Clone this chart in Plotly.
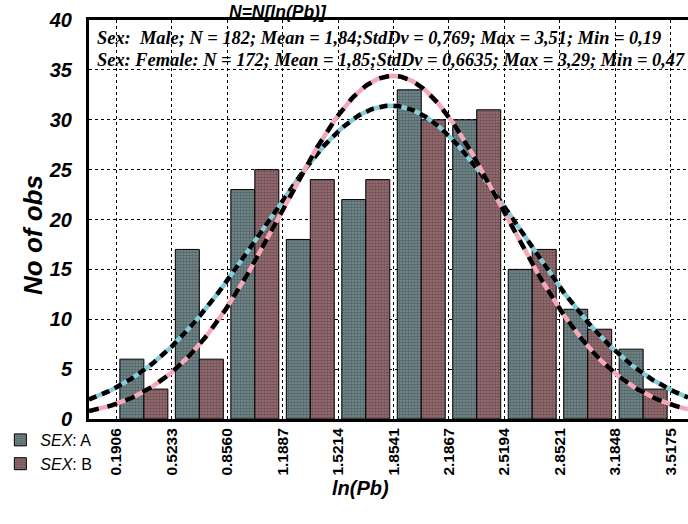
import numpy as np
import plotly.graph_objects as go

# ---- data ----
bin_edges = [0.1906, 0.5233, 0.8560, 1.1887, 1.5214, 1.8541, 2.1867, 2.5194, 2.8521, 3.1848, 3.5175]
tick_labels = ["0.1906", "0.5233", "0.8560", "1.1887", "1.5214", "1.8541", "2.1867", "2.5194", "2.8521", "3.1848", "3.5175"]
male_counts = [6, 17, 23, 18, 22, 33, 30, 15, 11, 7]
female_counts = [3, 6, 25, 24, 24, 30, 31, 17, 9, 3]

# fitted normal parameters shown on the chart
male_n, male_mean, male_sd = 182, 1.84, 0.769
female_n, female_mean, female_sd = 172, 1.85, 0.6635

line1 = "Sex:  Male; N = 182; Mean = 1,84;StdDv = 0,769; Max = 3,51; Min = 0,19"
line2 = "Sex: Female: N = 172; Mean = 1,85;StdDv = 0,6635; Max = 3,29; Min = 0,47"

centers = [(a + b) / 2 for a, b in zip(bin_edges[:-1], bin_edges[1:])]
bw = bin_edges[1] - bin_edges[0]

x_lo, x_hi = 0.028, 3.62
xs = np.linspace(x_lo, x_hi, 300)


def normal_curve(n, mu, sd):
    return n * bw / (sd * np.sqrt(2 * np.pi)) * np.exp(-0.5 * ((xs - mu) / sd) ** 2)


male_curve = normal_curve(male_n, male_mean, male_sd)
female_curve = normal_curve(female_n, female_mean, female_sd)

SANS = "Liberation Sans"
SERIF = "Liberation Serif"

fig = go.Figure()
fig.add_trace(go.Bar(
    x=centers, y=male_counts, name="<i>SEX</i>: A",
    marker=dict(color="#7a8f93", line=dict(color="black", width=1),
                pattern=dict(shape=".", size=3, solidity=0.6, fgcolor="#2c3a3d")),
))
fig.add_trace(go.Bar(
    x=centers, y=female_counts, name="<i>SEX</i>: B",
    marker=dict(color="#9b7478", line=dict(color="black", width=1),
                pattern=dict(shape=".", size=3, solidity=0.6, fgcolor="#482c2f")),
))

fig.add_trace(go.Scatter(x=xs, y=male_curve, mode="lines", showlegend=False, hoverinfo="skip",
                         line=dict(color="#86cbd8", width=4.5)))
fig.add_trace(go.Scatter(x=xs, y=male_curve, mode="lines", showlegend=False, hoverinfo="skip",
                         line=dict(color="black", width=4.5, dash="8px,6px")))
fig.add_trace(go.Scatter(x=xs, y=female_curve, mode="lines", showlegend=False, hoverinfo="skip",
                         line=dict(color="#f5a9b8", width=4.5)))
fig.add_trace(go.Scatter(x=xs, y=female_curve, mode="lines", showlegend=False, hoverinfo="skip",
                         line=dict(color="black", width=4.5, dash="10px,9px")))

fig.update_layout(
    width=688, height=524,
    margin=dict(l=89, r=0, t=20, b=105, autoexpand=False),
    paper_bgcolor="white", plot_bgcolor="white",
    barmode="group", bargap=0.135, bargroupgap=0.0,
    showlegend=True,
    legend=dict(x=-0.148, y=-0.01, xanchor="left", yanchor="top",
                font=dict(family=SANS, size=16, color="black"),
                bgcolor="rgba(0,0,0,0)", tracegroupgap=0, itemwidth=30),
    font=dict(family=SANS, color="black"),
)

fig.update_xaxes(
    range=[x_lo, x_hi], tickmode="array", tickvals=bin_edges, ticktext=tick_labels,
    tickangle=-90, tickfont=dict(family=SANS, size=15.5, weight="bold", color="black"),
    showgrid=True, gridcolor="black", gridwidth=1, griddash="3px,3px",
    showline=True, linecolor="black", linewidth=3, mirror=True,
    ticks="", zeroline=False,
)
fig.update_yaxes(
    range=[0, 40], tickmode="array", tickvals=[0, 5, 10, 15, 20, 25, 30, 35, 40],
    tickfont=dict(family=SANS, size=20, weight="bold", style="italic", color="black"),
    showgrid=True, gridcolor="black", gridwidth=1, griddash="3px,3px",
    showline=True, linecolor="black", linewidth=3,
    ticks="", zeroline=False, ticklabelstandoff=10,
)

fig.add_annotation(text="<b><i>N=N[ln(Pb)]</i></b>", xref="paper", yref="paper",
                   x=(278 - 89) / 599, y=1 + 8 / 399, xanchor="center", yanchor="middle",
                   showarrow=False, font=dict(family=SANS, size=17.5, color="black"))
fig.add_annotation(text="<b><i>" + line1 + "</i></b>", xref="paper", yref="y",
                   x=(95 - 89) / 599, y=38.15, xanchor="left", yanchor="middle",
                   showarrow=False, font=dict(family=SERIF, size=18.4, color="black"))
fig.add_annotation(text="<b><i>" + line2 + "</i></b>", xref="paper", yref="y",
                   x=(95 - 89) / 599, y=36.0, xanchor="left", yanchor="middle",
                   showarrow=False, font=dict(family=SERIF, size=18.4, color="black"))
fig.add_annotation(text="<b><i>No of obs</i></b>", xref="paper", yref="paper",
                   x=(33 - 89) / 599, y=(420 - 236) / 399, xanchor="center", yanchor="middle",
                   textangle=-90, showarrow=False, font=dict(family=SANS, size=26, color="black"))
fig.add_annotation(text="<b><i>ln(Pb)</i></b>", xref="paper", yref="paper",
                   x=(360 - 89) / 599, y=-(489 - 420) / 399, xanchor="center", yanchor="middle",
                   showarrow=False, font=dict(family=SANS, size=20, color="black"))

fig.write_html("out.html", config={"displayModeBar": False},
               post_script="document.body.style.margin='0';")
